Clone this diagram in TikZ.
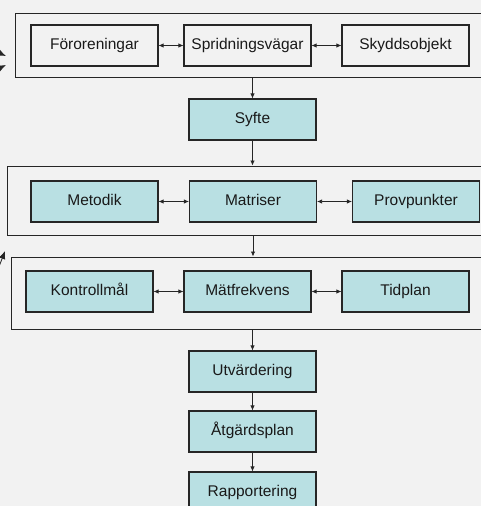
\documentclass[tikz,border=0pt]{standalone}
\usepackage{fontspec}
\setmainfont{Liberation Sans}
\usetikzlibrary{arrows.meta}
\definecolor{mbg}{HTML}{F2F2F2}
\definecolor{mcyan}{HTML}{B9E0E3}
\definecolor{mline}{HTML}{262626}
\tikzset{box/.style = {draw=mline, line width=1.1pt, minimum width=127pt,
                       minimum height=41pt, inner sep=0pt, text=black!90,
                       text height=0.9em, text depth=0.02em,
                       font=\fontsize{15.5}{18}\selectfont},
         cbox/.style = {box, fill=mcyan},
         group/.style = {draw=mline, line width=1pt, inner sep=0pt},
         link/.style = {mline, line width=0.8pt, >={Latex[length=5pt, width=4.5pt]}},
         loose/.style = {link, >={Latex[length=8pt, width=6.5pt]}}}

\begin{document}
\begin{tikzpicture}[x=1pt, y=-1pt]
      \useasboundingbox (0, 0) rectangle (481, 506);
      \clip (0, 0) rectangle (481, 506);
      \fill [mbg] (0, 0) rectangle (481, 506);

      % groups
      \node [group, minimum width=468pt, minimum height=64pt] (g1) at (249.8, 45) {};
      \node [group, minimum width=477pt, minimum height=69pt] (g2) at (245.5, 200.5) {};
      \node [group, minimum width=473pt, minimum height=72pt] (g3) at (247.5, 293) {};

      \node [box] (foro) at (94.5, 45.5) {Föroreningar};
      \node [box] (sprid) at (247.5, 45.5) {Spridningsvägar};
      \node [box] (skydd) at (405.5, 45.5) {Skyddsobjekt};

      \node [cbox] (syfte) at (252.5, 119.5) {Syfte};

      \node [cbox] (metod) at (94.5, 201.5) {Metodik};
      \node [cbox] (matr) at (253, 201.5) {Matriser};
      \node [cbox] (prov) at (416, 201.5) {Provpunkter};

      \node [cbox] (kontr) at (89.5, 291.5) {Kontrollmål};
      \node [cbox] (matf) at (247.5, 291.5) {Mätfrekvens};
      \node [cbox] (tidp) at (405.5, 291.5) {Tidplan};

      \node [cbox] (utv) at (252.5, 371.5) {Utvärdering};
      \node [cbox] (atg) at (252.5, 431.5) {Åtgärdsplan};
      \node [cbox] (rapp) at (252.5, 492.5) {Rapportering};

      \draw [link, <->] (foro) -- (sprid);
      \draw [link, <->] (sprid) -- (skydd);
      \draw [link, <->] (metod) -- (matr);
      \draw [link, <->] (matr) -- (prov);
      \draw [link, <->] (kontr) -- (matf);
      \draw [link, <->] (matf) -- (tidp);

      \draw [link, ->] (syfte |- g1.south) -- (syfte.north);
      \draw [link, ->] (syfte.south) -- (syfte |- g2.north);
      \draw [link, ->] (matr |- g2.south) -- (matr |- g3.north);
      \draw [link, ->] (utv |- g3.south) -- (utv.north);
      \draw [link, ->] (utv) -- (atg);
      \draw [link, ->] (atg) -- (rapp);

      % loose ends at the left edge
      \coordinate (in1) at (-30, 40);
      \coordinate (tip1) at (6, 56);
      \coordinate (in2) at (-30, 82);
      \coordinate (tip2) at (6, 65);
      \coordinate (in3) at (-8, 285);
      \coordinate (tip3) at (5, 251);
      \draw [loose, ->] (in1) -- (tip1);
      \draw [loose, ->] (in2) -- (tip2);
      \draw [loose, ->] (in3) -- (tip3);
    \end{tikzpicture}
\end{document}
